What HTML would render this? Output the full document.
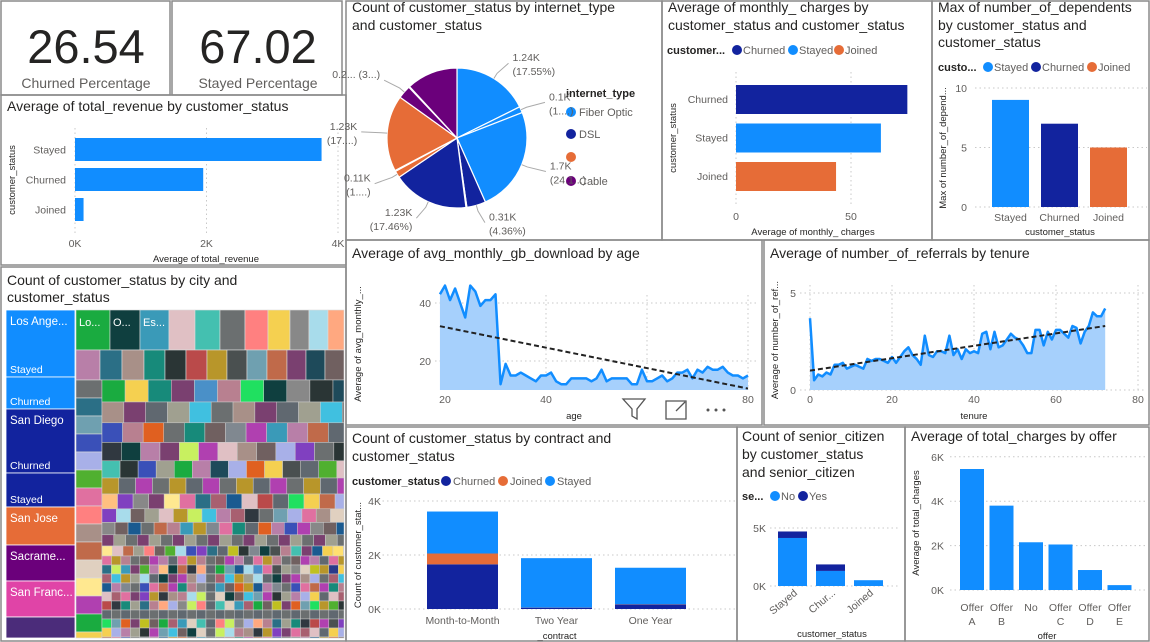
<!DOCTYPE html>
<html><head><meta charset="utf-8">
<style>
html,body{margin:0;padding:0;background:#fff;}
svg{display:block;font-family:"Liberation Sans",sans-serif;}
.t{font-size:14px;fill:#252423;}
.tk{font-size:10.5px;fill:#605E5C;}
.ax{font-size:9.5px;fill:#252423;}
.lg{font-size:11px;fill:#605E5C;}
.lgb{font-size:11px;fill:#252423;font-weight:bold;}
.pl{font-size:10.5px;fill:#605E5C;}
</style></head>
<body>
<svg id="s" width="1150" height="642" viewBox="0 0 1150 642">
<rect x="0" y="0" width="1150" height="642" fill="#fff"/>
<g fill="none" stroke="#8a8a8a" stroke-width="1.5">
<rect x="1" y="1" width="169" height="94"/>
<rect x="172" y="1" width="170" height="94"/>
<rect x="1" y="95" width="345" height="170"/>
<rect x="346" y="1" width="316" height="239"/>
<rect x="662" y="1" width="270" height="239"/>
<rect x="932" y="1" width="217" height="239"/>
<rect x="1" y="267" width="345" height="374"/>
<rect x="346" y="240" width="416" height="185"/>
<rect x="764" y="240" width="385" height="185"/>
<rect x="346" y="427" width="391" height="214"/>
<rect x="737" y="427" width="168" height="214"/>
<rect x="905" y="427" width="244" height="214"/>
</g>
<text x="86" y="63" text-anchor="middle" font-size="47" fill="#252423">26.54</text>
<text x="86" y="88" text-anchor="middle" font-size="14" fill="#605E5C">Churned Percentage</text>
<text x="258" y="63" text-anchor="middle" font-size="47" fill="#252423">67.02</text>
<text x="258" y="88" text-anchor="middle" font-size="14" fill="#605E5C">Stayed Percentage</text>
<text class="t" x="7" y="111">Average of total_revenue by customer_status</text>
<text class="t" x="352" y="12">Count of customer_status by internet_type</text>
<text class="t" x="352" y="30">and customer_status</text>
<text class="t" x="668" y="12">Average of monthly_ charges by</text>
<text class="t" x="668" y="30">customer_status and customer_status</text>
<text class="t" x="938" y="12">Max of number_of_dependents</text>
<text class="t" x="938" y="30">by customer_status and</text>
<text class="t" x="938" y="47">customer_status</text>
<text class="t" x="7" y="285">Count of customer_status by city and</text>
<text class="t" x="7" y="302">customer_status</text>
<text class="t" x="352" y="258">Average of avg_monthly_gb_download by age</text>
<text class="t" x="770" y="258">Average of number_of_referrals by tenure</text>
<text class="t" x="352" y="443">Count of customer_status by contract and</text>
<text class="t" x="352" y="461">customer_status</text>
<text class="t" x="742" y="441">Count of senior_citizen</text>
<text class="t" x="742" y="459">by customer_status</text>
<text class="t" x="742" y="477">and senior_citizen</text>
<text class="t" x="911" y="441">Average of total_charges by offer</text>
<g>
<text class="lgb" x="667" y="54">customer...</text>
<circle cx="737" cy="50" r="5" fill="#12239E"/><text class="lg" x="743" y="54">Churned</text>
<circle cx="793" cy="50" r="5" fill="#118DFF"/><text class="lg" x="799" y="54">Stayed</text>
<circle cx="839" cy="50" r="5" fill="#E66C37"/><text class="lg" x="845" y="54">Joined</text>
</g>
<g>
<text class="lgb" x="938" y="71">custo...</text>
<circle cx="988" cy="67" r="5" fill="#118DFF"/><text class="lg" x="994" y="71">Stayed</text>
<circle cx="1036" cy="67" r="5" fill="#12239E"/><text class="lg" x="1042" y="71">Churned</text>
<circle cx="1092" cy="67" r="5" fill="#E66C37"/><text class="lg" x="1098" y="71">Joined</text>
</g>
<g>
<text class="lgb" x="566" y="97" font-size="12">internet_type</text>
<circle cx="571" cy="112" r="5" fill="#118DFF"/><text class="lg" x="579" y="116" font-size="12">Fiber Optic</text>
<circle cx="571" cy="134" r="5" fill="#12239E"/><text class="lg" x="579" y="138" font-size="12">DSL</text>
<circle cx="571" cy="157" r="5" fill="#E66C37"/>
<circle cx="571" cy="181" r="5" fill="#6B007B"/><text class="lg" x="579" y="185" font-size="12">Cable</text>
</g>
<g>
<text class="lgb" x="352" y="485">customer_status</text>
<circle cx="446" cy="481" r="5" fill="#12239E"/><text class="lg" x="453" y="485">Churned</text>
<circle cx="503" cy="481" r="5" fill="#E66C37"/><text class="lg" x="510" y="485">Joined</text>
<circle cx="550" cy="481" r="5" fill="#118DFF"/><text class="lg" x="557" y="485">Stayed</text>
</g>
<g>
<text class="lgb" x="742" y="500">se...</text>
<circle cx="775" cy="496" r="5" fill="#118DFF"/><text class="lg" x="781" y="500">No</text>
<circle cx="803" cy="496" r="5" fill="#12239E"/><text class="lg" x="809" y="500">Yes</text>
</g>
<text class="ax" transform="translate(15,180) rotate(-90)" text-anchor="middle">customer_status</text>
<text class="ax" x="206" y="262" text-anchor="middle">Average of total_revenue</text>
<text class="ax" transform="translate(676,138) rotate(-90)" text-anchor="middle">customer_status</text>
<text class="ax" x="813" y="235" text-anchor="middle">Average of monthly_ charges</text>
<text class="ax" transform="translate(946,148) rotate(-90)" text-anchor="middle">Max of number_of_depend...</text>
<text class="ax" x="1060" y="235" text-anchor="middle">customer_status</text>
<text class="ax" transform="translate(361,344) rotate(-90)" text-anchor="middle">Average of avg_monthly_...</text>
<text class="ax" x="574" y="419" text-anchor="middle">age</text>
<text class="ax" transform="translate(778,340) rotate(-90)" text-anchor="middle">Average of number_of_ref...</text>
<text class="ax" x="974" y="419" text-anchor="middle">tenure</text>
<text class="ax" transform="translate(361,555) rotate(-90)" text-anchor="middle">Count of customer_stat...</text>
<text class="ax" x="557" y="639" text-anchor="middle">_contract</text>
<text class="ax" x="832" y="637" text-anchor="middle">customer_status</text>
<text class="ax" transform="translate(919,523) rotate(-90)" text-anchor="middle">Average of total_charges</text>
<text class="ax" x="1047" y="639" text-anchor="middle">offer</text>
<g fill="none" stroke="#555" stroke-width="1.3">
<path d="M623 399 L645 399 L637 409 L637 419 L632 416 L632 409 Z"/>
<path d="M666 401 L686 401 L686 419 L666 419 Z M676 411 L685 402"/>
<g fill="#555" stroke="none"><circle cx="708" cy="410" r="1.5"/><circle cx="716" cy="410" r="1.5"/><circle cx="724" cy="410" r="1.5"/></g>
</g>
<g id="marks"></g>
</svg>
<script>
const revCats=['Stayed','Churned','Joined'];
const revVals=[3750,1950,130];
const revTicks=['0K','2K','4K'];
const pieVals=[1236,100,1699,307,15,1230,110,15,1230,213,15,830];
const pieTypes=['Fiber Optic','Fiber Optic','Fiber Optic','DSL','DSL','DSL','Unknown','Unknown','Unknown','Cable','Cable','Cable'];
const pieLabels=[['1.24K','(17.55%)'],['0.1K','(1....)'],['1.7K','(24.1...)'],['0.31K','(4.36%)'],null,['1.23K','(17.46%)'],['0.11K','(1....)'],null,['1.23K','(17....)'],['0.2... (3...)',''],null,null];
const monCats=['Churned','Stayed','Joined'];
const monVals=[74.5,63,43.5];
const depCats=['Stayed','Churned','Joined'];
const depVals=[9,7,5];
const ageX=[19,20,21,22,23,24,25,26,27,28,29,30,31,32,33,34,35,36,37,38,39,40,41,42,43,44,45,46,47,48,49,50,51,52,53,54,55,56,57,58,59,60,61,62,63,64,65,66,67,68,69,70,71,72,73,74,75,76,77,78,79,80];
const ageVals=[43,46,41,45,40,35,46,44,39,41,41,43,12,19,15,15,16,15,14,13,15,15,16,13,12,12,14,14,14,14,13,14,17,13,14,14,14,14,12,12,17,13,13,14,15,13,14,16,16,17,14,17,16,18,17,17,18,16,15,15,14,15];
const ageTrend=[32,10.5];
const tenX=[];for(let i=0;i<=72;i++)tenX.push(i);
const tenVals=[3.7,0.5,0.8,0.7,0.9,0.8,1.3,1.3,1.4,1.1,1.2,1.3,1.2,1.1,1.6,1.5,1.6,1.6,1.5,1.4,1.7,1.4,1.7,2.0,2.2,1.8,1.6,1.3,2.8,1.8,1.7,2.0,2.0,1.9,2.8,1.8,2.1,1.6,2.1,1.9,2.0,1.9,2.9,3.0,2.1,3.0,2.2,2.3,2.6,2.9,2.7,2.6,2.3,1.9,1.9,3.1,3.1,2.3,3.0,2.6,3.1,3.1,2.9,2.7,3.3,3.2,2.4,3.0,3.3,4.0,3.8,3.8,4.2];
const tenTrend=[1.0,3.3];
const conCats=['Month-to-Month','Two Year','One Year'];
const conChurned=[1655,48,166];
const conJoined=[400,5,12];
const conStayed=[1555,1830,1350];
const senCats=['Stayed','Chur...','Joined'];
const senNo=[4140,1300,500];
const senYes=[560,560,0];
const offCats=[['Offer','A'],['Offer','B'],['No',''],['Offer','C'],['Offer','D'],['Offer','E']];
const offVals=[5450,3800,2150,2050,900,220];
const cityNames=['Los Ange...','','San Diego','','San Jose','Sacrame...','San Franc...',''];
const citySub=['Stayed','Churned','Churned','Stayed','','','',''];
const cityVals=[67,32,64,34,38,36,36,21];
const cityColors=['#118DFF','#118DFF','#12239E','#12239E','#E66C37','#6B007B','#E044A7','#4B2C7A'];

const NS='http://www.w3.org/2000/svg';
const M=document.getElementById('marks');
function mk(p,tag,a,txt){const e=document.createElementNS(NS,tag);for(const k in a)e.setAttribute(k,a[k]);if(txt!=null)e.textContent=txt;p.appendChild(e);return e;}
function grp(name){const g=mk(M,'g',{});return g;}
const GRID={stroke:'#c8c8c8','stroke-dasharray':'1.5 3','stroke-width':1};

(function(){const g=grp('revenue-chart');
const xr=v=>75+v/4000*263;
revTicks.forEach((t,i)=>{const x=xr(i*2000);mk(g,'line',Object.assign({x1:x,x2:x,y1:128,y2:234},GRID));
const e=mk(g,'text',{x:x,y:247,'text-anchor':'middle',class:'tk'},t);});
revCats.forEach((c,i)=>{const y=138+i*30;
const b=mk(g,'rect',{x:75,y:y,width:xr(revVals[i])-75,height:23,fill:'#118DFF'});


const e=mk(g,'text',{x:66,y:y+15.5,'text-anchor':'end',class:'tk'},c);

});})();

(function(){const g=grp('internet-type-pie');
const cx=457,cy=138,r=70;const tot=pieVals.reduce((a,b)=>a+b,0);
const col={'Fiber Optic':'#118DFF','DSL':'#12239E','Unknown':'#E66C37','Cable':'#6B007B'};
let a0=-Math.PI/2;
pieVals.forEach((v,i)=>{const a1=a0+v/tot*2*Math.PI;
const x0=cx+r*Math.cos(a0),y0=cy+r*Math.sin(a0),x1=cx+r*Math.cos(a1),y1=cy+r*Math.sin(a1);
const p=mk(g,'path',{d:`M${cx},${cy} L${x0},${y0} A${r},${r} 0 ${a1-a0>Math.PI?1:0} 1 ${x1},${y1} Z`,fill:col[pieTypes[i]],stroke:'#fff','stroke-width':1.2});


const L=pieLabels[i];
if(L){const am=(a0+a1)/2;const ex=cx+(r+6)*Math.cos(am),ey=cy+(r+6)*Math.sin(am);
const right=Math.cos(am)>=0;const lx=cx+(r+24)*Math.cos(am)+(right?6:-6);let ly=cy+(r+18)*Math.sin(am);
mk(g,'polyline',{points:`${cx+r*Math.cos(am)},${cy+r*Math.sin(am)} ${ex},${ey} ${lx+(right?-4:4)},${ly}`,fill:'none',stroke:'#aaa','stroke-width':1});
const t=mk(g,'text',{x:lx,y:ly-2,'text-anchor':right?'start':'end',class:'pl'},L[0]);


if(L[1]){const t2=mk(g,'text',{x:lx,y:ly+12,'text-anchor':right?'start':'end',class:'pl'},L[1]);

}}
a0=a1;});})();

(function(){const g=grp('monthly-charges-chart');
const xr=v=>736+v/50*115;
[0,50].forEach(v=>{const x=xr(v);mk(g,'line',Object.assign({x1:x,x2:x,y1:72,y2:205},GRID));
const e=mk(g,'text',{x:x,y:220,'text-anchor':'middle',class:'tk'},String(v));});
const cs=['#12239E','#118DFF','#E66C37'];
monCats.forEach((c,i)=>{const y=85+i*38.5;
const b=mk(g,'rect',{x:736,y:y,width:xr(monVals[i])-736,height:29,fill:cs[i]});


const e=mk(g,'text',{x:728,y:y+18,'text-anchor':'end',class:'tk'},c);

});})();

(function(){const g=grp('dependents-chart');
const yr=v=>207-v/10*119;
[0,5,10].forEach(v=>{const y=yr(v);mk(g,'line',Object.assign({x1:975,x2:1147,y1:y,y2:y},GRID));
const e=mk(g,'text',{x:967,y:y+4,'text-anchor':'end',class:'tk'},String(v));});
const cs=['#118DFF','#12239E','#E66C37'];
depCats.forEach((c,i)=>{const x=992+i*49;
const b=mk(g,'rect',{x:x,y:yr(depVals[i]),width:37,height:yr(0)-yr(depVals[i]),fill:cs[i]});


const e=mk(g,'text',{x:x+18.5,y:221,'text-anchor':'middle',class:'tk'},c);

});})();

function areaChart(name,xs,vs,trend,xr,yr,base,xticks,yticks,xtickHide){
const g=grp(name);
yticks.forEach(v=>{const y=yr(v);mk(g,'line',Object.assign({x1:xr(xticks[0])-10,x2:xr(xticks[xticks.length-1])+8,y1:y,y2:y},GRID));
const e=mk(g,'text',{x:xr(xticks[0])-14,y:y+4,'text-anchor':'end',class:'tk'},String(v));});
xticks.forEach(v=>{const x=xr(v);mk(g,'line',Object.assign({x1:x,x2:x,y1:yr(yticks[yticks.length-1])-8,y2:base},GRID));
if(xtickHide.indexOf(v)<0){const e=mk(g,'text',{x:x,y:403,'text-anchor':'middle',class:'tk'},String(v));}});
let d='',da='';xs.forEach((x,i)=>{d+=(i?'L':'M')+xr(x)+','+yr(vs[i]);});
da=d+`L${xr(xs[xs.length-1])},${base}L${xr(xs[0])},${base}Z`;
const a=mk(g,'path',{d:da,fill:'#A6D0FC'});


const l=mk(g,'path',{d:d,fill:'none',stroke:'#118DFF','stroke-width':2.5,'stroke-linejoin':'round'});


const x0=xs[0],x1=xs[xs.length-1];
const t=mk(g,'line',{x1:xr(x0),y1:yr(trend[0]),x2:xr(x1),y2:yr(trend[1]),stroke:'#222','stroke-width':2,'stroke-dasharray':'5 3'});


return g;}
areaChart('age-chart',ageX,ageVals,ageTrend,v=>445+(v-20)*(303/60),v=>361-(v-20)*2.9,390,[20,40,60,80],[20,40],[60]);
areaChart('referrals-chart',tenX,tenVals,tenTrend,v=>810+v*4.1,v=>390-v*19.4,390,[0,20,40,60,80],[0,5],[]);

(function(){const g=grp('contract-chart');
const yr=v=>609-v/1000*27;
[0,2000,4000].forEach(v=>{const y=yr(v);mk(g,'line',Object.assign({x1:378,x2:735,y1:y,y2:y},GRID));
const e=mk(g,'text',{x:381,y:y+4,'text-anchor':'end',class:'tk'},(v/1000)+'K');});
conCats.forEach((c,i)=>{const x=427+i*94;let acc=0;
[[conChurned,'#12239E','churned'],[conJoined,'#E66C37','joined'],[conStayed,'#118DFF','stayed']].forEach(s=>{const v=s[0][i];
const b=mk(g,'rect',{x:x,y:yr(acc+v),width:71,height:yr(acc)-yr(acc+v),fill:s[1]});


acc+=v;});
const e=mk(g,'text',{x:x+35.5,y:624,'text-anchor':'middle',class:'tk'},c);

});})();

(function(){const g=grp('senior-chart');
const yr=v=>586-v/5000*58;
[0,5000].forEach(v=>{const y=yr(v);mk(g,'line',Object.assign({x1:770,x2:900,y1:y,y2:y},GRID));
const e=mk(g,'text',{x:766,y:y+4,'text-anchor':'end',class:'tk'},(v/1000)+'K');});
senCats.forEach((c,i)=>{const x=778+i*38;
const b=mk(g,'rect',{x:x,y:yr(senNo[i]),width:29,height:yr(0)-yr(senNo[i]),fill:'#118DFF'});


const b2=mk(g,'rect',{x:x,y:yr(senNo[i]+senYes[i]),width:29,height:yr(senNo[i])-yr(senNo[i]+senYes[i]),fill:'#12239E'});


const e=mk(g,'text',{x:x+20,y:594,'text-anchor':'end',class:'tk',transform:`rotate(-40 ${x+20} 594)`},c);

});})();

(function(){const g=grp('offer-chart');
const yr=v=>590-v/1000*22.2;
[0,2000,4000,6000].forEach(v=>{const y=yr(v);mk(g,'line',Object.assign({x1:950,x2:1145,y1:y,y2:y},GRID));
const e=mk(g,'text',{x:944,y:y+4,'text-anchor':'end',class:'tk'},(v/1000)+'K');});
offCats.forEach((c,i)=>{const x=960+i*29.5;
const b=mk(g,'rect',{x:x,y:yr(offVals[i]),width:24,height:yr(0)-yr(offVals[i]),fill:'#118DFF'});


const e=mk(g,'text',{x:x+12,y:611,'text-anchor':'middle',class:'tk'},c[0]);


if(c[1]){const e2=mk(g,'text',{x:x+12,y:625,'text-anchor':'middle',class:'tk'},c[1]);

}});})();

(function(){const g=grp('city-treemap');
const pal=['#1AAB40','#0F3F3F','#3A9AB8','#E0C0C4','#44C0B0','#6B6F70','#FF8080','#F5D050','#888888','#A8DCEB','#FFA880','#B87FA8','#2B6F86','#A89088','#178A7A','#2A3535','#BA4A4A','#B8962A','#4A5050','#6FA0B0','#C06A4A','#7A4070','#1E4A5A','#706060','#FFE070','#A86070','#3A50B8','#E0D0C0','#4A90C8','#606870','#FFC080','#C8F060','#808890','#A8B0E8','#FFE890','#B88090','#2A3A8A','#A0A090','#1A5A90','#303840','#50B030','#B040B0','#20E060','#8040C0','#E06020','#40C0E0','#C0C020','#E070A0'];
const tx=6,tw=69;let y=310;
cityVals.forEach((v,i)=>{const r=mk(g,'rect',{x:tx,y:y,width:tw,height:v,fill:cityColors[i],stroke:'#fff','stroke-width':0.8});


if(cityNames[i]){const t=mk(g,'text',{x:tx+4,y:y+15,fill:'#fff','font-size':11.5},cityNames[i]);}
if(citySub[i]){const t=mk(g,'text',{x:tx+4,y:y+v-4,fill:'#fff','font-size':10.5},citySub[i]);}
y+=v;});
const rows=[[310,40,[34,30,29,26,25,25,23,22,19,19,16]],[350,30,[24,22,22,21,21,21,20,20,20,20,19,19,19]]];
let ci=0;
rows.forEach(rw=>{let x=76;rw[2].forEach(w=>{const r=mk(g,'rect',{x:x,y:rw[0],width:w,height:rw[1],fill:pal[ci%pal.length],stroke:'#ddd','stroke-width':0.6});


ci++;x+=w;});});
[['Lo...',79],['O...',113],['Es...',143]].forEach(l=>{const t=mk(g,'text',{x:l[1],y:326,fill:'#fff','font-size':11},l[0]);});
y=380;let k=0;while(y<638){const h=Math.min(18,638-y);const r=mk(g,'rect',{x:76,y:y,width:26,height:h,fill:pal[(k*7+5)%pal.length],stroke:'#ddd','stroke-width':0.6});


y+=h;k++;}
y=380;let h=22,ri=0;let xstart=102;
while(y<638){const hh=Math.min(h,638-y);const w=Math.max(h*1.05,9);let x=xstart;let j=0;
while(x<344){const ww=Math.min(w,344-x);const r=mk(g,'rect',{x:x,y:y,width:ww,height:hh,fill:pal[(ri*13+j*7+ri*j)%pal.length],stroke:'#ccc','stroke-width':0.5});


x+=ww;j++;}
y+=hh;ri++;h=Math.max(9,h-1.2);}
})();
</script>
</body></html>
